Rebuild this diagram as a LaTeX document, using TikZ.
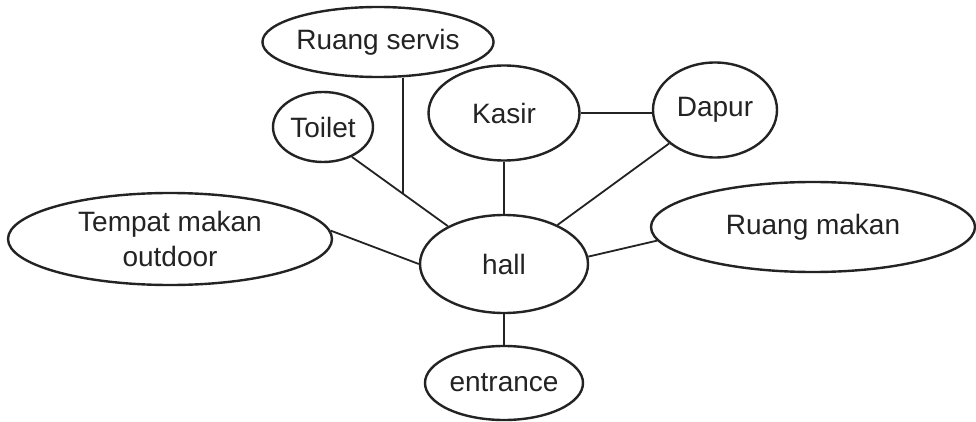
\documentclass[tikz,border=0pt]{standalone}
\usepackage{fontspec}
\setmainfont{Liberation Sans}
\usetikzlibrary{shapes.geometric,calc}
\definecolor{ink}{HTML}{232323}
\begin{document}
\begin{tikzpicture}[x=1pt,y=-1pt,
  room/.style={ellipse, draw=ink, line width=2.4pt, inner sep=0pt,
    text=ink, align=center, font=\fontsize{28}{35}\selectfont},
  link/.style={draw=ink, line width=1.8pt}]
\useasboundingbox[fill=white] (0,0) rectangle (976,422);

% rooms
\node[room, minimum width=230pt, minimum height=70pt] (servis) at (378,42)  {Ruang servis};
\node[room, minimum width=100pt, minimum height=70pt] (toilet) at (323,127) {Toilet};
\node[room, minimum width=151pt, minimum height=95pt] (kasir)  at (504,113) {Kasir};
\node[room, minimum width=124pt, minimum height=95pt] (dapur)  at (715,110) {Dapur};
\node[room, minimum width=324pt, minimum height=92pt] (tempat) at (170,239) {Tempat makan\\outdoor};
\node[room, minimum width=168pt, minimum height=98pt] (hall)   at (504,264) {hall};
\node[room, minimum width=324pt, minimum height=90pt] (makan)  at (813,227) {Ruang makan};
\node[room, minimum width=158pt, minimum height=74pt] (entrance) at (504,383) {entrance};

% connections
\draw[link] (kasir.east) -- (kasir.east -| dapur.west);
\draw[link] (kasir) -- (hall);
\draw[link] (dapur) -- (hall);
\draw[link] (toilet.-46) -- (hall.146);
\coordinate (j) at ($(toilet.-46)!0.536!(hall.146)$);
\draw[link] (j) -- (j |- servis.south);
\draw[link] (tempat.3) -- (hall.west);
\draw[link] (hall.5) -- (makan.185);
\draw[link] (hall) -- (entrance);
\end{tikzpicture}
\end{document}
